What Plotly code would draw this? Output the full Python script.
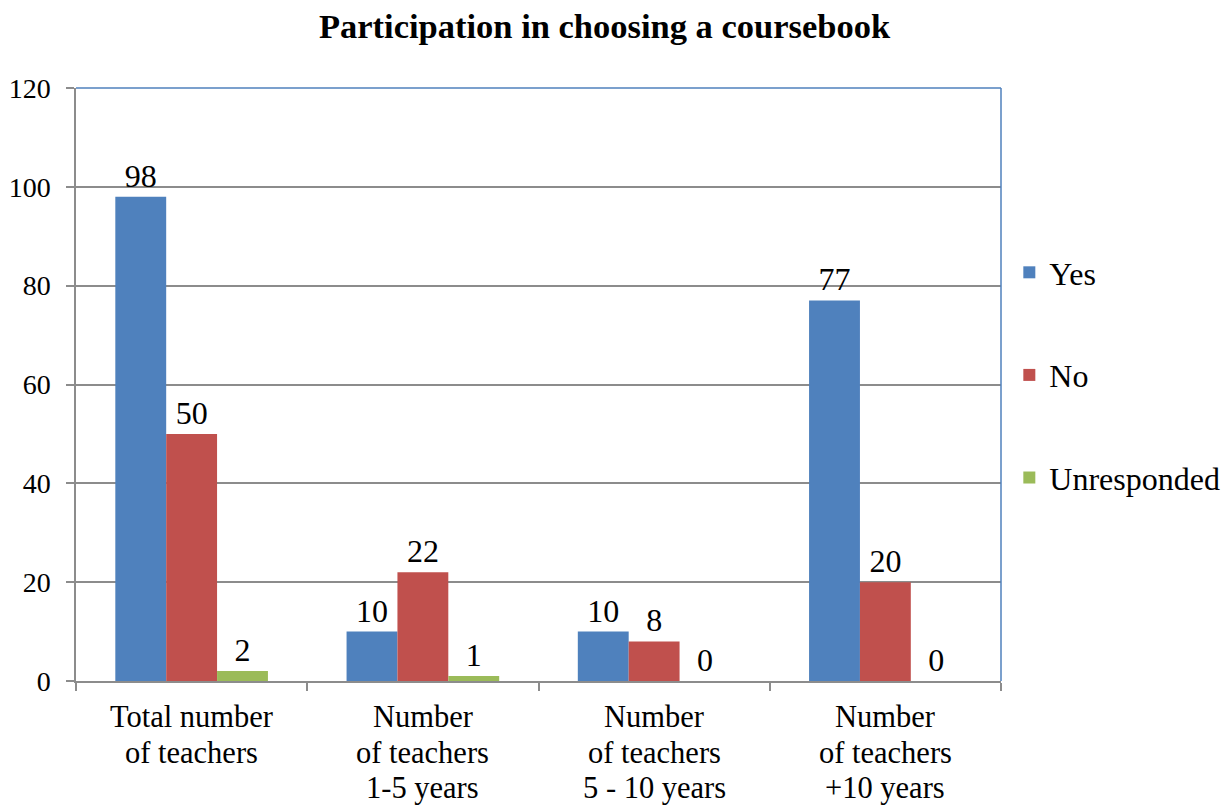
import plotly.graph_objects as go

categories = [
    "Total number<br>of teachers",
    "Number<br>of teachers<br>1-5 years",
    "Number<br>of teachers<br>5 - 10 years",
    "Number<br>of teachers<br>+10 years",
]
yes_vals = [98, 10, 10, 77]
no_vals = [50, 22, 8, 20]
unresp_vals = [2, 1, 0, 0]

series = [
    ("Yes", yes_vals, "#4F81BD"),
    ("No", no_vals, "#C0504D"),
    ("Unresponded", unresp_vals, "#9BBB59"),
]

FONT = "Liberation Serif, Times New Roman, serif"
AXIS_GREY = "#8c8c8c"
FRAME_BLUE = "#4F81BD"
FIRST_LINE = 36   # px from x axis to first category label line
LINE_STEP = 35.5  # px between category label lines (tighter than plotly's 1.3em)

fig = go.Figure()
for name, vals, color in series:
    fig.add_trace(
        go.Bar(
            x=categories,
            y=vals,
            name=name,
            marker=dict(color=color, line=dict(width=0)),
            text=[str(v) for v in vals],
            textposition="outside",
            textfont=dict(size=32, color="black", family=FONT),
            cliponaxis=False,
            legendgroup=name,
        )
    )

# category labels drawn line by line so the line spacing matches the original
cat_annotations = []
for cat in categories:
    for k, line in enumerate(cat.split("<br>")):
        cat_annotations.append(
            dict(
                x=cat, xref="x",
                y=0, yref="paper",
                yanchor="middle",
                yshift=-(FIRST_LINE + LINE_STEP * k),
                text=line,
                showarrow=False,
                font=dict(size=30.5, family=FONT, color="black"),
            )
        )

# page has an 8px body margin, so the figure is sized/margined to compensate
fig.update_layout(
    width=1215,
    height=799,
    paper_bgcolor="white",
    plot_bgcolor="white",
    font=dict(family=FONT, size=30, color="black"),
    title=dict(
        text="<b>Participation in choosing a coursebook</b>",
        x=0.491,
        xanchor="center",
        y=0.977,
        yanchor="middle",
        font=dict(size=34.5, family=FONT, color="black"),
    ),
    barmode="group",
    bargap=0.34,
    bargroupgap=0,
    margin=dict(l=68, r=222, t=80, b=126, pad=0, autoexpand=False),
    legend=dict(
        x=1.009,
        xanchor="left",
        y=0.516,
        yanchor="middle",
        font=dict(size=32, family=FONT, color="black"),
        tracegroupgap=58,
        itemwidth=30,
        bgcolor="rgba(0,0,0,0)",
    ),
    annotations=cat_annotations,
)

fig.update_xaxes(
    automargin=False,
    showline=True,
    linecolor=AXIS_GREY,
    linewidth=1.5,
    ticks="outside",
    tickson="boundaries",
    ticklen=8,
    tickcolor=AXIS_GREY,
    tickwidth=1.5,
    showticklabels=False,
)
fig.update_yaxes(
    automargin=False,
    range=[0, 120],
    dtick=20,
    showline=True,
    linecolor=AXIS_GREY,
    linewidth=1.5,
    ticks="outside",
    ticklen=8,
    tickcolor=AXIS_GREY,
    tickwidth=1.5,
    ticklabelstandoff=10,
    showgrid=True,
    gridcolor=AXIS_GREY,
    gridwidth=1.5,
    zeroline=False,
    tickfont=dict(size=28, family=FONT, color="black"),
)

# blue frame on top and right sides of the plot area
fig.add_shape(type="line", xref="paper", yref="paper", x0=0, x1=1, y0=1, y1=1,
              line=dict(color=FRAME_BLUE, width=1.5))
fig.add_shape(type="line", xref="paper", yref="paper", x0=1, x1=1, y0=0, y1=1,
              line=dict(color=FRAME_BLUE, width=1.5))

fig.write_html("out.html")
